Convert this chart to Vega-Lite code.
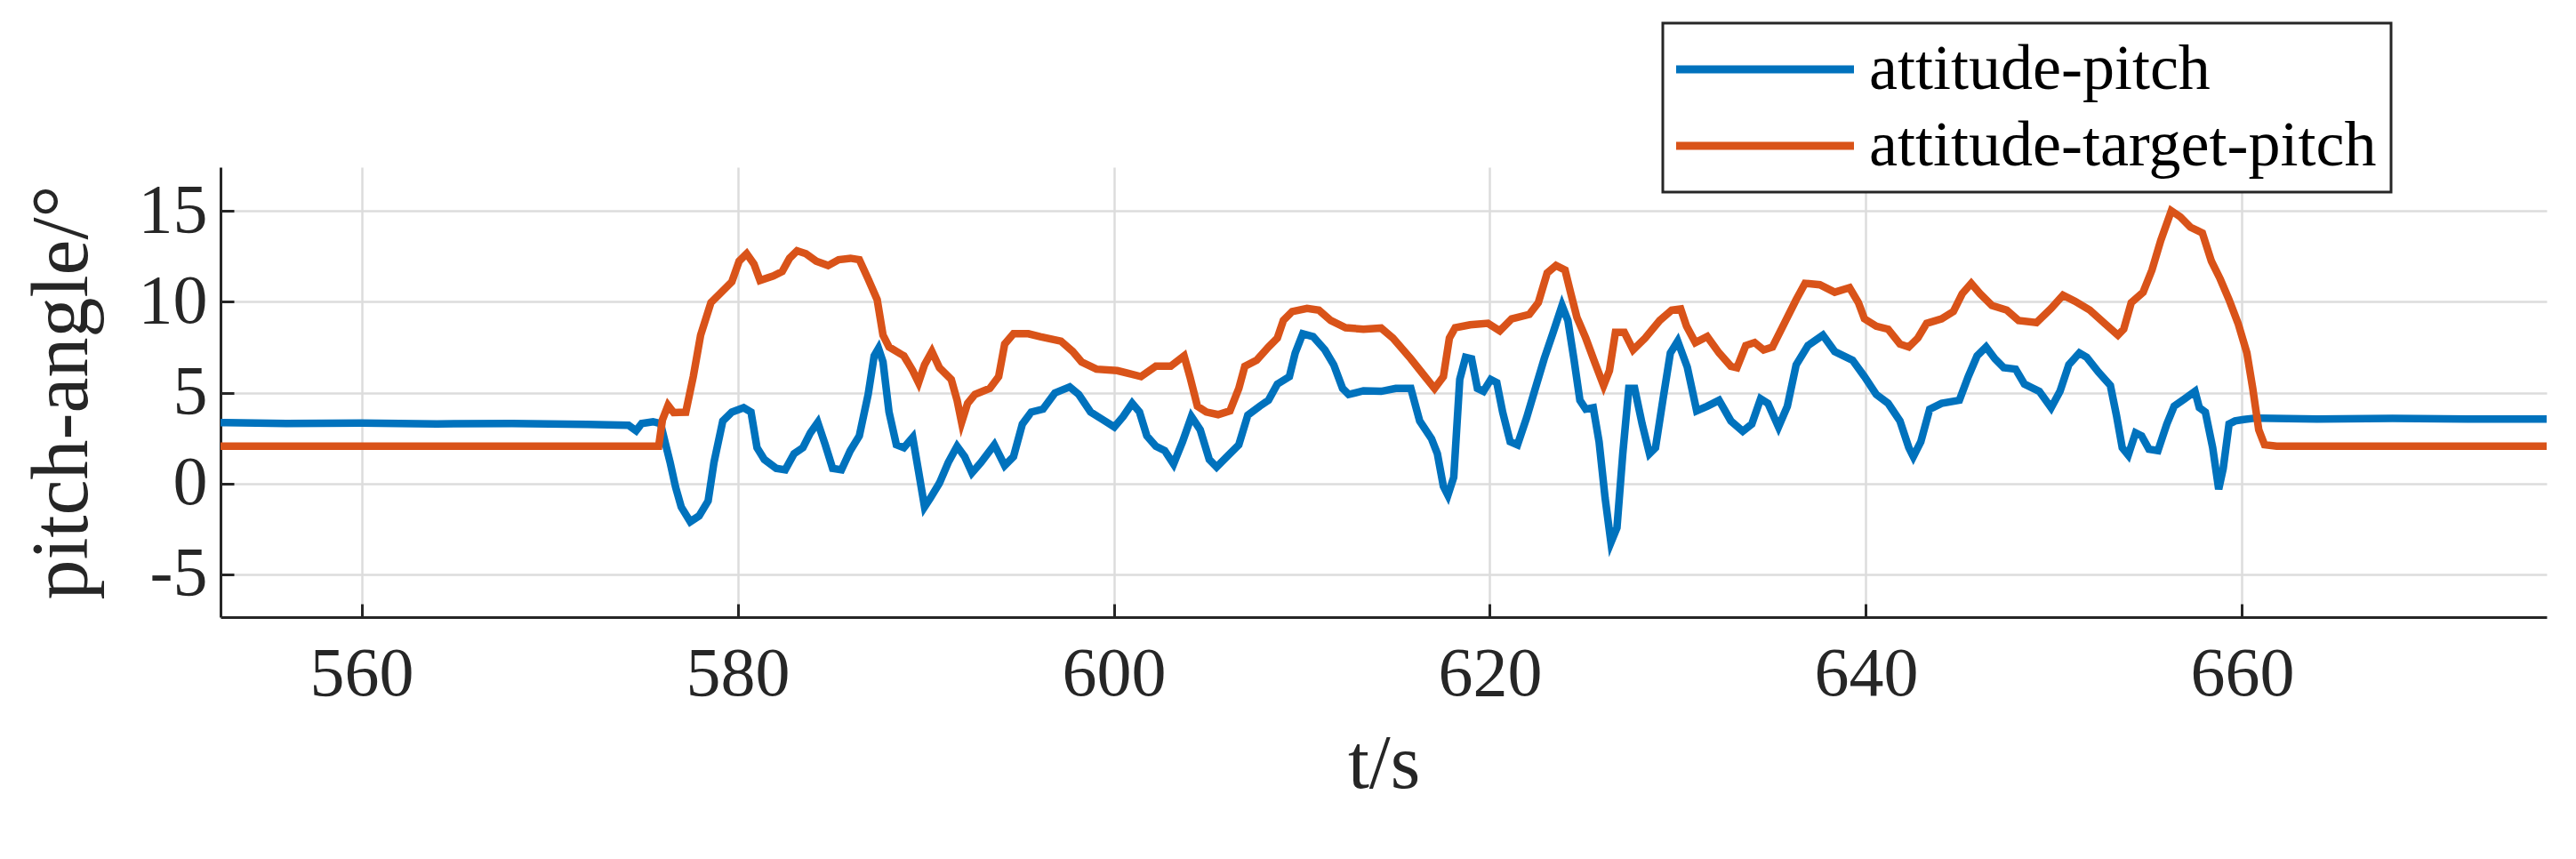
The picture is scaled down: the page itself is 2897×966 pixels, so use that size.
{
  "$schema": "https://vega.github.io/schema/vega-lite/v6.json",
  "autosize": {"type": "none"},
  "padding": {"left": 248, "top": 188, "right": 33, "bottom": 272},
  "width": 2616,
  "height": 506,
  "background": "white",
  "config": {
    "view": {"stroke": null},
    "font": "Liberation Serif",
    "axis": {
      "domainColor": "#262626", "domainWidth": 3,
      "gridColor": "#dcdcdc", "gridWidth": 2.5,
      "tickColor": "#262626", "tickWidth": 3, "tickSize": -15,
      "labelFont": "Liberation Serif", "labelFontSize": 78, "labelColor": "#262626",
      "titleFont": "Liberation Serif", "titleFontSize": 86, "titleFontWeight": "normal", "titleColor": "#262626"
    }
  },
  "data": {"values": [
    {"t":552.5,"v":3.35,"s":"attitude-pitch"},{"t":556,"v":3.3,"s":"attitude-pitch"},{"t":560,"v":3.32,"s":"attitude-pitch"},{"t":564,"v":3.28,"s":"attitude-pitch"},{"t":568,"v":3.3,"s":"attitude-pitch"},{"t":572,"v":3.25,"s":"attitude-pitch"},{"t":574.2,"v":3.2,"s":"attitude-pitch"},{"t":574.6,"v":2.9,"s":"attitude-pitch"},{"t":574.9,"v":3.3,"s":"attitude-pitch"},{"t":575.5,"v":3.4,"s":"attitude-pitch"},{"t":575.9,"v":3.3,"s":"attitude-pitch"},{"t":576.17,"v":2.15,"s":"attitude-pitch"},{"t":576.4,"v":1.2,"s":"attitude-pitch"},{"t":576.7,"v":-0.2,"s":"attitude-pitch"},{"t":577.0,"v":-1.29,"s":"attitude-pitch"},{"t":577.48,"v":-2.1,"s":"attitude-pitch"},{"t":577.95,"v":-1.78,"s":"attitude-pitch"},{"t":578.43,"v":-0.96,"s":"attitude-pitch"},{"t":578.74,"v":1.16,"s":"attitude-pitch"},{"t":579.21,"v":3.44,"s":"attitude-pitch"},{"t":579.69,"v":3.93,"s":"attitude-pitch"},{"t":580.32,"v":4.17,"s":"attitude-pitch"},{"t":580.71,"v":3.93,"s":"attitude-pitch"},{"t":581.03,"v":1.97,"s":"attitude-pitch"},{"t":581.42,"v":1.32,"s":"attitude-pitch"},{"t":582.05,"v":0.83,"s":"attitude-pitch"},{"t":582.53,"v":0.75,"s":"attitude-pitch"},{"t":583.0,"v":1.64,"s":"attitude-pitch"},{"t":583.47,"v":1.97,"s":"attitude-pitch"},{"t":583.87,"v":2.79,"s":"attitude-pitch"},{"t":584.26,"v":3.36,"s":"attitude-pitch"},{"t":584.66,"v":2.13,"s":"attitude-pitch"},{"t":585.05,"v":0.83,"s":"attitude-pitch"},{"t":585.52,"v":0.75,"s":"attitude-pitch"},{"t":585.99,"v":1.81,"s":"attitude-pitch"},{"t":586.47,"v":2.62,"s":"attitude-pitch"},{"t":586.94,"v":4.9,"s":"attitude-pitch"},{"t":587.26,"v":7.02,"s":"attitude-pitch"},{"t":587.49,"v":7.43,"s":"attitude-pitch"},{"t":587.73,"v":6.69,"s":"attitude-pitch"},{"t":588.05,"v":3.93,"s":"attitude-pitch"},{"t":588.44,"v":2.13,"s":"attitude-pitch"},{"t":588.84,"v":1.97,"s":"attitude-pitch"},{"t":589.31,"v":2.54,"s":"attitude-pitch"},{"t":589.62,"v":0.67,"s":"attitude-pitch"},{"t":589.94,"v":-1.29,"s":"attitude-pitch"},{"t":590.25,"v":-0.8,"s":"attitude-pitch"},{"t":590.73,"v":0.02,"s":"attitude-pitch"},{"t":591.2,"v":1.16,"s":"attitude-pitch"},{"t":591.67,"v":2.05,"s":"attitude-pitch"},{"t":592.07,"v":1.48,"s":"attitude-pitch"},{"t":592.46,"v":0.59,"s":"attitude-pitch"},{"t":592.94,"v":1.16,"s":"attitude-pitch"},{"t":593.65,"v":2.13,"s":"attitude-pitch"},{"t":594.2,"v":0.99,"s":"attitude-pitch"},{"t":594.67,"v":1.48,"s":"attitude-pitch"},{"t":595.14,"v":3.27,"s":"attitude-pitch"},{"t":595.61,"v":3.93,"s":"attitude-pitch"},{"t":596.24,"v":4.09,"s":"attitude-pitch"},{"t":596.87,"v":4.98,"s":"attitude-pitch"},{"t":597.66,"v":5.31,"s":"attitude-pitch"},{"t":598.14,"v":4.9,"s":"attitude-pitch"},{"t":598.77,"v":3.93,"s":"attitude-pitch"},{"t":599.4,"v":3.52,"s":"attitude-pitch"},{"t":600.03,"v":3.11,"s":"attitude-pitch"},{"t":600.5,"v":3.68,"s":"attitude-pitch"},{"t":600.98,"v":4.41,"s":"attitude-pitch"},{"t":601.37,"v":3.93,"s":"attitude-pitch"},{"t":601.76,"v":2.62,"s":"attitude-pitch"},{"t":602.24,"v":2.05,"s":"attitude-pitch"},{"t":602.71,"v":1.81,"s":"attitude-pitch"},{"t":603.18,"v":1.07,"s":"attitude-pitch"},{"t":603.66,"v":2.3,"s":"attitude-pitch"},{"t":604.13,"v":3.68,"s":"attitude-pitch"},{"t":604.6,"v":2.95,"s":"attitude-pitch"},{"t":605.08,"v":1.32,"s":"attitude-pitch"},{"t":605.47,"v":0.91,"s":"attitude-pitch"},{"t":606.02,"v":1.48,"s":"attitude-pitch"},{"t":606.65,"v":2.13,"s":"attitude-pitch"},{"t":607.13,"v":3.76,"s":"attitude-pitch"},{"t":607.76,"v":4.25,"s":"attitude-pitch"},{"t":608.23,"v":4.58,"s":"attitude-pitch"},{"t":608.7,"v":5.47,"s":"attitude-pitch"},{"t":609.34,"v":5.88,"s":"attitude-pitch"},{"t":609.65,"v":7.18,"s":"attitude-pitch"},{"t":610.05,"v":8.24,"s":"attitude-pitch"},{"t":610.6,"v":8.08,"s":"attitude-pitch"},{"t":611.23,"v":7.35,"s":"attitude-pitch"},{"t":611.7,"v":6.53,"s":"attitude-pitch"},{"t":612.17,"v":5.23,"s":"attitude-pitch"},{"t":612.49,"v":4.9,"s":"attitude-pitch"},{"t":613.28,"v":5.1,"s":"attitude-pitch"},{"t":614.22,"v":5.07,"s":"attitude-pitch"},{"t":615.0,"v":5.23,"s":"attitude-pitch"},{"t":615.8,"v":5.23,"s":"attitude-pitch"},{"t":616.27,"v":3.44,"s":"attitude-pitch"},{"t":616.9,"v":2.46,"s":"attitude-pitch"},{"t":617.21,"v":1.64,"s":"attitude-pitch"},{"t":617.53,"v":-0.15,"s":"attitude-pitch"},{"t":617.77,"v":-0.64,"s":"attitude-pitch"},{"t":618.08,"v":0.34,"s":"attitude-pitch"},{"t":618.4,"v":5.72,"s":"attitude-pitch"},{"t":618.71,"v":6.94,"s":"attitude-pitch"},{"t":619.03,"v":6.86,"s":"attitude-pitch"},{"t":619.34,"v":5.23,"s":"attitude-pitch"},{"t":619.66,"v":5.07,"s":"attitude-pitch"},{"t":620.05,"v":5.72,"s":"attitude-pitch"},{"t":620.37,"v":5.55,"s":"attitude-pitch"},{"t":620.68,"v":3.93,"s":"attitude-pitch"},{"t":621.08,"v":2.3,"s":"attitude-pitch"},{"t":621.47,"v":2.13,"s":"attitude-pitch"},{"t":621.95,"v":3.6,"s":"attitude-pitch"},{"t":622.42,"v":5.23,"s":"attitude-pitch"},{"t":622.89,"v":6.86,"s":"attitude-pitch"},{"t":623.37,"v":8.32,"s":"attitude-pitch"},{"t":623.84,"v":9.79,"s":"attitude-pitch"},{"t":624.15,"v":8.97,"s":"attitude-pitch"},{"t":624.47,"v":6.86,"s":"attitude-pitch"},{"t":624.79,"v":4.58,"s":"attitude-pitch"},{"t":625.1,"v":4.09,"s":"attitude-pitch"},{"t":625.5,"v":4.17,"s":"attitude-pitch"},{"t":625.81,"v":2.3,"s":"attitude-pitch"},{"t":626.13,"v":-0.8,"s":"attitude-pitch"},{"t":626.44,"v":-3.24,"s":"attitude-pitch"},{"t":626.76,"v":-2.43,"s":"attitude-pitch"},{"t":627.07,"v":1.64,"s":"attitude-pitch"},{"t":627.39,"v":5.23,"s":"attitude-pitch"},{"t":627.7,"v":5.23,"s":"attitude-pitch"},{"t":628.1,"v":3.27,"s":"attitude-pitch"},{"t":628.49,"v":1.64,"s":"attitude-pitch"},{"t":628.81,"v":1.97,"s":"attitude-pitch"},{"t":629.2,"v":4.58,"s":"attitude-pitch"},{"t":629.6,"v":7.18,"s":"attitude-pitch"},{"t":629.99,"v":7.83,"s":"attitude-pitch"},{"t":630.5,"v":6.4,"s":"attitude-pitch"},{"t":631.0,"v":4.0,"s":"attitude-pitch"},{"t":631.56,"v":4.25,"s":"attitude-pitch"},{"t":632.19,"v":4.58,"s":"attitude-pitch"},{"t":632.82,"v":3.44,"s":"attitude-pitch"},{"t":633.45,"v":2.87,"s":"attitude-pitch"},{"t":633.93,"v":3.27,"s":"attitude-pitch"},{"t":634.4,"v":4.66,"s":"attitude-pitch"},{"t":634.79,"v":4.41,"s":"attitude-pitch"},{"t":635.35,"v":3.11,"s":"attitude-pitch"},{"t":635.82,"v":4.25,"s":"attitude-pitch"},{"t":636.29,"v":6.53,"s":"attitude-pitch"},{"t":636.92,"v":7.59,"s":"attitude-pitch"},{"t":637.71,"v":8.16,"s":"attitude-pitch"},{"t":638.34,"v":7.26,"s":"attitude-pitch"},{"t":639.29,"v":6.78,"s":"attitude-pitch"},{"t":639.92,"v":5.88,"s":"attitude-pitch"},{"t":640.55,"v":4.9,"s":"attitude-pitch"},{"t":641.18,"v":4.41,"s":"attitude-pitch"},{"t":641.81,"v":3.44,"s":"attitude-pitch"},{"t":642.28,"v":1.97,"s":"attitude-pitch"},{"t":642.52,"v":1.48,"s":"attitude-pitch"},{"t":642.92,"v":2.3,"s":"attitude-pitch"},{"t":643.39,"v":4.09,"s":"attitude-pitch"},{"t":644.02,"v":4.41,"s":"attitude-pitch"},{"t":644.97,"v":4.58,"s":"attitude-pitch"},{"t":645.44,"v":5.88,"s":"attitude-pitch"},{"t":645.91,"v":7.02,"s":"attitude-pitch"},{"t":646.39,"v":7.51,"s":"attitude-pitch"},{"t":646.86,"v":6.86,"s":"attitude-pitch"},{"t":647.33,"v":6.37,"s":"attitude-pitch"},{"t":647.96,"v":6.29,"s":"attitude-pitch"},{"t":648.43,"v":5.47,"s":"attitude-pitch"},{"t":649.22,"v":5.07,"s":"attitude-pitch"},{"t":649.85,"v":4.17,"s":"attitude-pitch"},{"t":650.32,"v":5.07,"s":"attitude-pitch"},{"t":650.79,"v":6.53,"s":"attitude-pitch"},{"t":651.35,"v":7.18,"s":"attitude-pitch"},{"t":651.74,"v":6.94,"s":"attitude-pitch"},{"t":652.37,"v":6.12,"s":"attitude-pitch"},{"t":653.0,"v":5.39,"s":"attitude-pitch"},{"t":653.32,"v":3.76,"s":"attitude-pitch"},{"t":653.63,"v":1.97,"s":"attitude-pitch"},{"t":653.95,"v":1.56,"s":"attitude-pitch"},{"t":654.34,"v":2.79,"s":"attitude-pitch"},{"t":654.66,"v":2.62,"s":"attitude-pitch"},{"t":655.05,"v":1.89,"s":"attitude-pitch"},{"t":655.53,"v":1.81,"s":"attitude-pitch"},{"t":656.0,"v":3.27,"s":"attitude-pitch"},{"t":656.39,"v":4.25,"s":"attitude-pitch"},{"t":656.95,"v":4.66,"s":"attitude-pitch"},{"t":657.5,"v":5.07,"s":"attitude-pitch"},{"t":657.73,"v":4.17,"s":"attitude-pitch"},{"t":658.05,"v":3.93,"s":"attitude-pitch"},{"t":658.44,"v":1.97,"s":"attitude-pitch"},{"t":658.76,"v":-0.31,"s":"attitude-pitch"},{"t":659.0,"v":0.83,"s":"attitude-pitch"},{"t":659.31,"v":3.27,"s":"attitude-pitch"},{"t":659.63,"v":3.44,"s":"attitude-pitch"},{"t":660.1,"v":3.52,"s":"attitude-pitch"},{"t":660.73,"v":3.6,"s":"attitude-pitch"},{"t":664,"v":3.55,"s":"attitude-pitch"},{"t":668,"v":3.58,"s":"attitude-pitch"},{"t":672,"v":3.55,"s":"attitude-pitch"},{"t":676.2,"v":3.55,"s":"attitude-pitch"},
    {"t":552.5,"v":2.05,"s":"attitude-target-pitch"},{"t":575.8,"v":2.05,"s":"attitude-target-pitch"},{"t":576.0,"v":3.5,"s":"attitude-target-pitch"},{"t":576.3,"v":4.3,"s":"attitude-target-pitch"},{"t":576.6,"v":3.9,"s":"attitude-target-pitch"},{"t":577.24,"v":3.92,"s":"attitude-target-pitch"},{"t":577.64,"v":5.88,"s":"attitude-target-pitch"},{"t":578.03,"v":8.16,"s":"attitude-target-pitch"},{"t":578.58,"v":9.95,"s":"attitude-target-pitch"},{"t":579.06,"v":10.44,"s":"attitude-target-pitch"},{"t":579.69,"v":11.09,"s":"attitude-target-pitch"},{"t":580.08,"v":12.23,"s":"attitude-target-pitch"},{"t":580.48,"v":12.64,"s":"attitude-target-pitch"},{"t":580.87,"v":12.07,"s":"attitude-target-pitch"},{"t":581.19,"v":11.17,"s":"attitude-target-pitch"},{"t":581.9,"v":11.42,"s":"attitude-target-pitch"},{"t":582.37,"v":11.66,"s":"attitude-target-pitch"},{"t":582.76,"v":12.39,"s":"attitude-target-pitch"},{"t":583.16,"v":12.8,"s":"attitude-target-pitch"},{"t":583.63,"v":12.64,"s":"attitude-target-pitch"},{"t":584.18,"v":12.23,"s":"attitude-target-pitch"},{"t":584.81,"v":11.99,"s":"attitude-target-pitch"},{"t":585.37,"v":12.31,"s":"attitude-target-pitch"},{"t":586.0,"v":12.39,"s":"attitude-target-pitch"},{"t":586.47,"v":12.31,"s":"attitude-target-pitch"},{"t":586.94,"v":11.25,"s":"attitude-target-pitch"},{"t":587.42,"v":10.11,"s":"attitude-target-pitch"},{"t":587.73,"v":8.16,"s":"attitude-target-pitch"},{"t":588.05,"v":7.51,"s":"attitude-target-pitch"},{"t":588.84,"v":7.02,"s":"attitude-target-pitch"},{"t":589.31,"v":6.21,"s":"attitude-target-pitch"},{"t":589.62,"v":5.55,"s":"attitude-target-pitch"},{"t":589.94,"v":6.53,"s":"attitude-target-pitch"},{"t":590.33,"v":7.26,"s":"attitude-target-pitch"},{"t":590.73,"v":6.37,"s":"attitude-target-pitch"},{"t":591.36,"v":5.72,"s":"attitude-target-pitch"},{"t":591.67,"v":4.58,"s":"attitude-target-pitch"},{"t":591.91,"v":3.36,"s":"attitude-target-pitch"},{"t":592.23,"v":4.41,"s":"attitude-target-pitch"},{"t":592.62,"v":4.9,"s":"attitude-target-pitch"},{"t":593.41,"v":5.23,"s":"attitude-target-pitch"},{"t":593.88,"v":5.88,"s":"attitude-target-pitch"},{"t":594.2,"v":7.67,"s":"attitude-target-pitch"},{"t":594.67,"v":8.24,"s":"attitude-target-pitch"},{"t":595.46,"v":8.24,"s":"attitude-target-pitch"},{"t":596.09,"v":8.08,"s":"attitude-target-pitch"},{"t":597.19,"v":7.83,"s":"attitude-target-pitch"},{"t":597.82,"v":7.26,"s":"attitude-target-pitch"},{"t":598.29,"v":6.69,"s":"attitude-target-pitch"},{"t":599.08,"v":6.29,"s":"attitude-target-pitch"},{"t":600.19,"v":6.21,"s":"attitude-target-pitch"},{"t":601.45,"v":5.88,"s":"attitude-target-pitch"},{"t":602.24,"v":6.45,"s":"attitude-target-pitch"},{"t":603.03,"v":6.45,"s":"attitude-target-pitch"},{"t":603.74,"v":7.02,"s":"attitude-target-pitch"},{"t":604.05,"v":5.88,"s":"attitude-target-pitch"},{"t":604.45,"v":4.25,"s":"attitude-target-pitch"},{"t":604.92,"v":3.93,"s":"attitude-target-pitch"},{"t":605.55,"v":3.79,"s":"attitude-target-pitch"},{"t":606.18,"v":4.0,"s":"attitude-target-pitch"},{"t":606.65,"v":5.23,"s":"attitude-target-pitch"},{"t":606.97,"v":6.45,"s":"attitude-target-pitch"},{"t":607.6,"v":6.78,"s":"attitude-target-pitch"},{"t":608.23,"v":7.51,"s":"attitude-target-pitch"},{"t":608.7,"v":8.0,"s":"attitude-target-pitch"},{"t":609.02,"v":8.97,"s":"attitude-target-pitch"},{"t":609.49,"v":9.46,"s":"attitude-target-pitch"},{"t":610.28,"v":9.63,"s":"attitude-target-pitch"},{"t":610.91,"v":9.54,"s":"attitude-target-pitch"},{"t":611.54,"v":8.97,"s":"attitude-target-pitch"},{"t":612.33,"v":8.57,"s":"attitude-target-pitch"},{"t":613.28,"v":8.49,"s":"attitude-target-pitch"},{"t":614.22,"v":8.55,"s":"attitude-target-pitch"},{"t":614.85,"v":8.0,"s":"attitude-target-pitch"},{"t":615.8,"v":6.86,"s":"attitude-target-pitch"},{"t":616.43,"v":6.04,"s":"attitude-target-pitch"},{"t":617.06,"v":5.23,"s":"attitude-target-pitch"},{"t":617.53,"v":5.88,"s":"attitude-target-pitch"},{"t":617.85,"v":8.0,"s":"attitude-target-pitch"},{"t":618.16,"v":8.57,"s":"attitude-target-pitch"},{"t":618.95,"v":8.73,"s":"attitude-target-pitch"},{"t":619.9,"v":8.81,"s":"attitude-target-pitch"},{"t":620.53,"v":8.4,"s":"attitude-target-pitch"},{"t":621.16,"v":9.06,"s":"attitude-target-pitch"},{"t":622.1,"v":9.3,"s":"attitude-target-pitch"},{"t":622.58,"v":9.95,"s":"attitude-target-pitch"},{"t":623.05,"v":11.58,"s":"attitude-target-pitch"},{"t":623.52,"v":11.99,"s":"attitude-target-pitch"},{"t":624.0,"v":11.74,"s":"attitude-target-pitch"},{"t":624.31,"v":10.44,"s":"attitude-target-pitch"},{"t":624.63,"v":9.14,"s":"attitude-target-pitch"},{"t":625.1,"v":8.0,"s":"attitude-target-pitch"},{"t":625.57,"v":6.69,"s":"attitude-target-pitch"},{"t":626.05,"v":5.39,"s":"attitude-target-pitch"},{"t":626.36,"v":6.21,"s":"attitude-target-pitch"},{"t":626.68,"v":8.32,"s":"attitude-target-pitch"},{"t":627.15,"v":8.32,"s":"attitude-target-pitch"},{"t":627.62,"v":7.35,"s":"attitude-target-pitch"},{"t":628.26,"v":8.0,"s":"attitude-target-pitch"},{"t":629.04,"v":8.97,"s":"attitude-target-pitch"},{"t":629.67,"v":9.54,"s":"attitude-target-pitch"},{"t":630.15,"v":9.6,"s":"attitude-target-pitch"},{"t":630.46,"v":8.65,"s":"attitude-target-pitch"},{"t":630.93,"v":7.75,"s":"attitude-target-pitch"},{"t":631.56,"v":8.08,"s":"attitude-target-pitch"},{"t":632.19,"v":7.18,"s":"attitude-target-pitch"},{"t":632.82,"v":6.45,"s":"attitude-target-pitch"},{"t":633.14,"v":6.37,"s":"attitude-target-pitch"},{"t":633.61,"v":7.59,"s":"attitude-target-pitch"},{"t":634.08,"v":7.75,"s":"attitude-target-pitch"},{"t":634.56,"v":7.35,"s":"attitude-target-pitch"},{"t":635.03,"v":7.51,"s":"attitude-target-pitch"},{"t":635.66,"v":8.81,"s":"attitude-target-pitch"},{"t":636.29,"v":10.11,"s":"attitude-target-pitch"},{"t":636.76,"v":11.01,"s":"attitude-target-pitch"},{"t":637.55,"v":10.93,"s":"attitude-target-pitch"},{"t":638.34,"v":10.52,"s":"attitude-target-pitch"},{"t":639.13,"v":10.77,"s":"attitude-target-pitch"},{"t":639.6,"v":9.95,"s":"attitude-target-pitch"},{"t":639.92,"v":9.06,"s":"attitude-target-pitch"},{"t":640.55,"v":8.65,"s":"attitude-target-pitch"},{"t":641.18,"v":8.49,"s":"attitude-target-pitch"},{"t":641.81,"v":7.67,"s":"attitude-target-pitch"},{"t":642.28,"v":7.51,"s":"attitude-target-pitch"},{"t":642.76,"v":8.0,"s":"attitude-target-pitch"},{"t":643.23,"v":8.81,"s":"attitude-target-pitch"},{"t":644.02,"v":9.06,"s":"attitude-target-pitch"},{"t":644.65,"v":9.46,"s":"attitude-target-pitch"},{"t":645.12,"v":10.44,"s":"attitude-target-pitch"},{"t":645.6,"v":11.01,"s":"attitude-target-pitch"},{"t":646.07,"v":10.44,"s":"attitude-target-pitch"},{"t":646.7,"v":9.79,"s":"attitude-target-pitch"},{"t":647.49,"v":9.54,"s":"attitude-target-pitch"},{"t":648.12,"v":8.97,"s":"attitude-target-pitch"},{"t":649.07,"v":8.85,"s":"attitude-target-pitch"},{"t":649.85,"v":9.63,"s":"attitude-target-pitch"},{"t":650.48,"v":10.36,"s":"attitude-target-pitch"},{"t":651.11,"v":10.03,"s":"attitude-target-pitch"},{"t":651.9,"v":9.54,"s":"attitude-target-pitch"},{"t":652.69,"v":8.81,"s":"attitude-target-pitch"},{"t":653.4,"v":8.16,"s":"attitude-target-pitch"},{"t":653.71,"v":8.49,"s":"attitude-target-pitch"},{"t":654.11,"v":9.95,"s":"attitude-target-pitch"},{"t":654.74,"v":10.52,"s":"attitude-target-pitch"},{"t":655.21,"v":11.74,"s":"attitude-target-pitch"},{"t":655.68,"v":13.37,"s":"attitude-target-pitch"},{"t":656.24,"v":15.0,"s":"attitude-target-pitch"},{"t":656.71,"v":14.67,"s":"attitude-target-pitch"},{"t":657.26,"v":14.1,"s":"attitude-target-pitch"},{"t":657.89,"v":13.78,"s":"attitude-target-pitch"},{"t":658.37,"v":12.23,"s":"attitude-target-pitch"},{"t":658.84,"v":11.25,"s":"attitude-target-pitch"},{"t":659.31,"v":10.11,"s":"attitude-target-pitch"},{"t":659.79,"v":8.81,"s":"attitude-target-pitch"},{"t":660.26,"v":7.18,"s":"attitude-target-pitch"},{"t":660.57,"v":5.23,"s":"attitude-target-pitch"},{"t":660.89,"v":2.95,"s":"attitude-target-pitch"},{"t":661.2,"v":2.13,"s":"attitude-target-pitch"},{"t":661.84,"v":2.05,"s":"attitude-target-pitch"},{"t":676.2,"v":2.05,"s":"attitude-target-pitch"}
  ]},
  "mark": {"type": "line", "strokeWidth": 8.5, "clip": true},
  "encoding": {
    "x": {"field": "t", "type": "quantitative",
      "scale": {"domain": [552.5, 676.2], "nice": false, "zero": false},
      "axis": {"values": [560, 580, 600, 620, 640, 660], "title": "t/s", "labelPadding": 40, "titlePadding": 20}},
    "y": {"field": "v", "type": "quantitative",
      "scale": {"domain": [-7.35, 17.4], "nice": false, "zero": false},
      "axis": {"values": [-5, 0, 5, 10, 15], "title": "pitch-angle/°", "titleFontSize": 90, "labelPadding": 30, "titlePadding": 39,
        "labelExpr": "datum.value < 0 ? '-' + abs(datum.value) : datum.label"}},
    "color": {"field": "s", "type": "nominal",
      "scale": {"domain": ["attitude-pitch", "attitude-target-pitch"], "range": ["#0072BD", "#D95319"]},
      "legend": {"title": null, "orient": "none", "legendX": 1622, "legendY": -162,
        "strokeColor": "#262626", "fillColor": "white", "padding": 16,
        "symbolType": "M-1.85,0H8.15", "symbolSize": 1600, "symbolStrokeWidth": 9, "symbolFillColor": "transparent",
        "labelFont": "Liberation Serif", "labelFontSize": 72, "labelColor": "black", "labelOffset": 144, "rowPadding": 14, "labelLimit": 0,
        "encode": {"legend": {"update": {"strokeWidth": {"value": 3}}}}}}
  }
}
